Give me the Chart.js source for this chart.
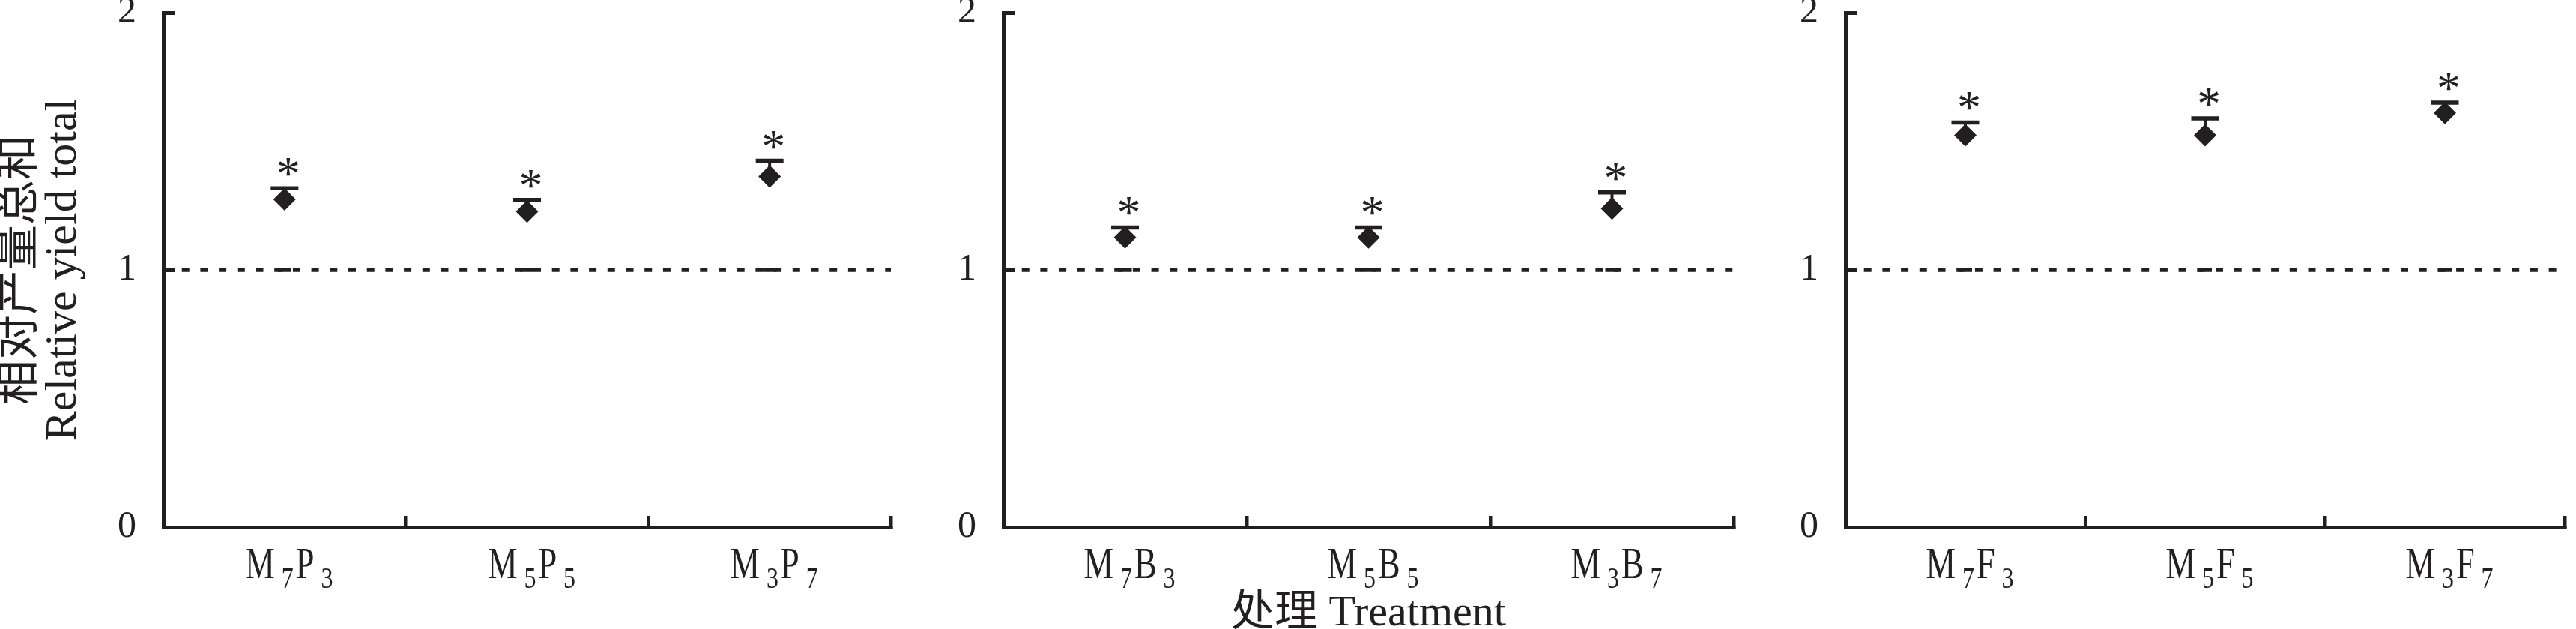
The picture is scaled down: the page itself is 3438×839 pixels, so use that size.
<!DOCTYPE html>
<html><head><meta charset="utf-8">
<script src="https://cdn.jsdelivr.net/npm/chart.js@4.4.1/dist/chart.umd.min.js"></script>
<style>
html,body{margin:0;padding:0;background:#fff;width:3438px;height:839px;overflow:hidden;}
canvas{position:absolute;top:0;}
</style></head><body>
<canvas id="c1"></canvas><canvas id="c2"></canvas><canvas id="c3"></canvas>
<script>
// ---- data ----
const categoriesP = ['M7P3', 'M5P5', 'M3P7'];
const categoriesB = ['M7B3', 'M5B5', 'M3B7'];
const categoriesF = ['M7F3', 'M5F5', 'M3F7'];
const valuesP = [1.274, 1.227, 1.363];
const errorsP = [0.043, 0.045, 0.061];
const valuesB = [1.126, 1.126, 1.238];
const errorsB = [0.039, 0.039, 0.063];
const valuesF = [1.523, 1.523, 1.610];
const errorsF = [0.050, 0.066, 0.040];
const sigP = ['*', '*', '*'];
const sigB = ['*', '*', '*'];
const sigF = ['*', '*', '*'];
const yTicks = [0, 1, 2];
const referenceLevel = 1;
const yTitle = ['相对产量总和', 'Relative yield total'];
const xTitle = '处理 Treatment';

// ---- style ----
const INK = '#231f20';
const SERIF = "'Liberation Serif','Times New Roman','Noto Sans CJK SC',serif";
const H = 839;
const AXIS_BOTTOM = 703;

const annotatePlugin = {
  id: 'annotate',
  afterDatasetsDraw(chart) {
    const ctx = chart.ctx, xs = chart.scales.x, ys = chart.scales.y;
    const ds = chart.data.datasets[0];
    ctx.save();
    ds.data.forEach((v, i) => {
      const px = xs.getPixelForValue(i);
      const py = ys.getPixelForValue(v);
      const top = ys.getPixelForValue(v + ds.errorBars[i]);
      ctx.strokeStyle = INK;
      ctx.lineWidth = 4;
      ctx.beginPath(); ctx.moveTo(px, py); ctx.lineTo(px, top); ctx.stroke();
      ctx.lineWidth = 5.5;
      ctx.beginPath(); ctx.moveTo(px - 18.5, top); ctx.lineTo(px + 18.5, top); ctx.stroke();
      ctx.font = '64px ' + SERIF;
      ctx.fillStyle = INK;
      ctx.textAlign = 'center';
      ctx.textBaseline = 'alphabetic';
      ctx.fillText(ds.sigMarks[i], px + 5, top + 2);
    });
    ctx.restore();
  },
  afterDraw(chart) {
    const ctx = chart.ctx, xs = chart.scales.x;
    const baseSize = 60, subSize = 40, sxBase = 0.74, sxSub = 0.8;
    const baseY = xs.top + 68, subY = xs.top + 81;
    ctx.save();
    ctx.fillStyle = INK;
    ctx.textBaseline = 'alphabetic';
    ctx.textAlign = 'left';
    chart.data.labels.forEach((lab, i) => {
      const parts = [...lab].map(ch => ({ ch, sub: /\d/.test(ch) }));
      let total = 0;
      parts.forEach((p, k) => {
        ctx.font = (p.sub ? subSize : baseSize) + 'px ' + SERIF;
        p.w = ctx.measureText(p.ch).width * (p.sub ? sxSub : sxBase);
        p.gapBefore = k === 0 ? 0 : (p.sub ? 9 : 3);
        total += p.w + p.gapBefore;
      });
      let cx = xs.getPixelForValue(i) - total / 2 + 6;
      parts.forEach(p => {
        cx += p.gapBefore;
        ctx.save();
        ctx.font = (p.sub ? subSize : baseSize) + 'px ' + SERIF;
        ctx.translate(cx, p.sub ? subY : baseY);
        ctx.scale(p.sub ? sxSub : sxBase, 1);
        ctx.fillText(p.ch, 0, 0);
        ctx.restore();
        cx += p.w;
      });
    });
    ctx.restore();
  }
};

function makePanel(id, left, width, axisX, rightX, labels, values, errors, marks, showYTitle, showXTitle) {
  const cv = document.getElementById(id);
  cv.width = width; cv.height = H;
  cv.style.left = left + 'px';
  cv.style.width = width + 'px'; cv.style.height = H + 'px';
  return new Chart(cv, {
    type: 'line',
    data: {
      labels: labels,
      datasets: [
        { data: values, errorBars: errors, sigMarks: marks, showLine: false,
          pointStyle: 'rectRot', pointRadius: 15, pointBackgroundColor: INK,
          pointBorderWidth: 0, order: 0 },
        { data: labels.map(() => referenceLevel), showLine: false, pointStyle: 'line',
          pointRadius: 9, pointBorderColor: INK, pointBorderWidth: 5.5, order: 1 },
        { data: [{ x: 0, y: referenceLevel }, { x: 1, y: referenceLevel }], xAxisID: 'xr',
          borderColor: INK, borderWidth: 5.5, borderDash: [10, 14.7], pointRadius: 0,
          fill: false, order: 2 }
      ]
    },
    options: {
      responsive: false, animation: false, events: [], devicePixelRatio: 1,
      layout: { padding: { left: 0, top: 17, right: width - (rightX - left), bottom: 0 } },
      plugins: { legend: { display: false }, tooltip: { enabled: false } },
      scales: {
        x: {
          type: 'category', offset: true,
          grid: { offset: true, drawOnChartArea: false, drawTicks: true, tickLength: -15, lineWidth: 4.5, color: INK },
          border: { display: true, width: 5, color: INK },
          ticks: { display: false },
          title: { display: showXTitle, text: xTitle, color: INK, padding: 0,
                   font: { family: SERIF, size: 58, lineHeight: 0.7 } },
          afterFit: s => { s.height = H - AXIS_BOTTOM; s.paddingLeft = 0; s.paddingRight = 0; }
        },
        xr: { type: 'linear', display: false, min: 0, max: 1 },
        y: {
          min: 0, max: 2,
          afterBuildTicks: s => { s.ticks = yTicks.map(v => ({ value: v })); },
          ticks: { color: INK, padding: 51, font: { family: SERIF, size: 50, lineHeight: 0.6 } },
          grid: { drawOnChartArea: false, tickLength: -15, lineWidth: 5, color: INK },
          border: { display: true, width: 5, color: INK },
          title: { display: showYTitle, text: yTitle, color: INK, padding: 0,
                   font: { family: SERIF, size: 60, lineHeight: '57px' } },
          afterFit: s => { s.width = axisX - left; s.paddingTop = 0; s.paddingBottom = 0; }
        }
      }
    },
    plugins: [annotatePlugin]
  });
}

makePanel('c1', 0, 1230, 218, 1189, categoriesP, valuesP, errorsP, sigP, true, false);
makePanel('c2', 1200, 1130, 1339, 2314, categoriesB, valuesB, errorsB, sigB, false, true);
makePanel('c3', 2330, 1108, 2463, 3434, categoriesF, valuesF, errorsF, sigF, false, false);
</script>
</body></html>
